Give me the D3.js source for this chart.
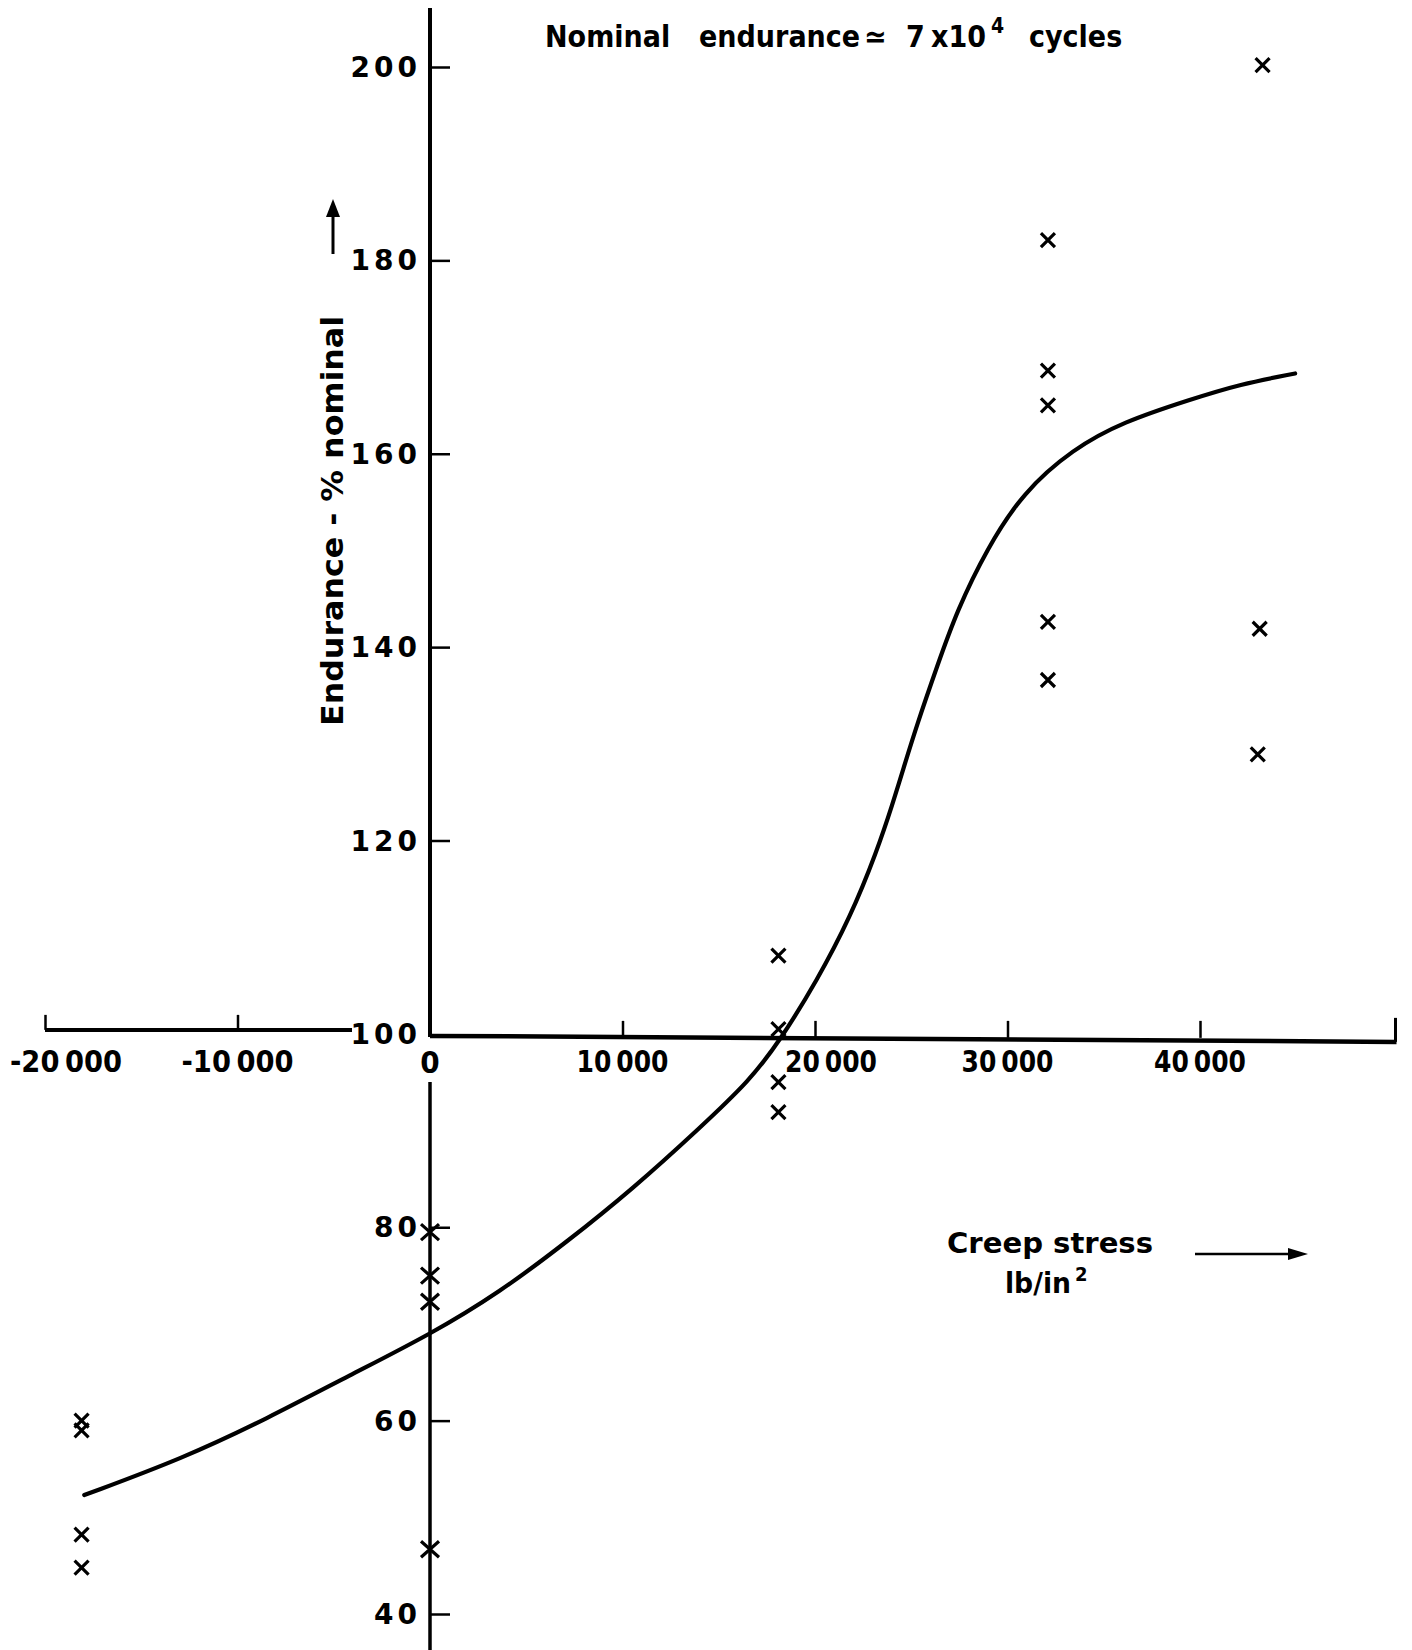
<!DOCTYPE html>
<html>
<head>
<meta charset="utf-8">
<script src="https://cdn.jsdelivr.net/npm/d3@7"></script>
<style>
  html, body { margin: 0; padding: 0; background: #fff; }
  svg { display: block; }
  text { fill: #000; font-family: "DejaVu Sans Condensed", "DejaVu Sans", sans-serif; font-weight: bold; }
</style>
</head>
<body>
<script>
// ---- data ----
const xTickValues = [-20000, -10000, 10000, 20000, 30000, 40000];
const xTickLabels = ["-20\u2009000", "-10\u2009000", "10\u2009000", "20\u2009000", "30\u2009000", "40\u2009000"];
const yTickValues = [40, 60, 80, 100, 120, 140, 160, 180, 200];
const yTickLabels = ["40", "60", "80", "100", "120", "140", "160", "180", "200"];

// test points (creep stress lb/in², endurance % nominal)
const pointStress = [43250, 32100, 32100, 32100, 32100, 32100, 43100, 43000,
                     18100, 18100, 18100, 18100,
                     0, 0, 0, 0,
                     -18100, -18100, -18100, -18100];
const pointEndurance = [200.2, 182.1, 168.6, 165.0, 142.6, 136.6, 141.9, 128.9,
                        108.1, 100.5, 95.0, 91.9,
                        79.5, 75.0, 72.3, 46.7,
                        60.0, 59.0, 48.2, 44.8];

// fitted curve
const curveStress = [-17960, -12830, -8470, -4160, 0, 3640, 7120, 10550, 14030, 16620,
                     18180, 20100, 21820, 23220, 24050, 24570, 25300, 26340, 27380, 28940,
                     30800, 33400, 36000, 39480, 42080, 44940];
const curveEndurance = [52.3, 56.1, 60.2, 64.7, 68.9, 73.3, 78.5, 84.0, 90.3, 95.2,
                        99.3, 105.5, 112.0, 118.9, 123.9, 127.3, 132.0, 138.0, 143.8, 150.2,
                        156.0, 160.5, 163.3, 165.6, 167.2, 168.3];

// title pieces
const titleWords = ["Nominal", "endurance", "\u2243", "7", "x10"];
const titleSup = "4";
const titleTail = "cycles";

// ---- drawing ----
const W = 1412, H = 1650;
const svg = d3.select("body").append("svg").attr("width", W).attr("height", H);

const x = d3.scaleLinear().domain([-20000, 50000]).range([45, 1392.5]);
const y = d3.scaleLinear().domain([40, 200]).range([1614, 67]);

const ink = "#000";
const x0 = x(0), y100 = y(100);

// --- y axis (broken at the x axis for the "0" label)
svg.append("line").attr("x1", x0).attr("x2", x0).attr("y1", 8).attr("y2", y100 + 3)
  .attr("stroke", ink).attr("stroke-width", 4);
svg.append("line").attr("x1", x0).attr("x2", x0).attr("y1", 1082).attr("y2", H)
  .attr("stroke", ink).attr("stroke-width", 3.5);

const yAxis = d3.axisRight(y)
  .tickValues(yTickValues.filter(v => v !== 100))
  .tickSize(20).tickFormat("");
const gy = svg.append("g").attr("transform", `translate(${x0},0)`).call(yAxis);
gy.select(".domain").remove();
gy.selectAll(".tick line").attr("stroke", ink).attr("stroke-width", 2.5);

// y tick labels
svg.append("g").selectAll("text").data(yTickValues).join("text")
  .attr("x", 421).attr("y", d => y(d) + 10)
  .attr("text-anchor", "end")
  .style("font-family", "'DejaVu Sans', sans-serif")
  .style("font-size", "28px")
  .style("letter-spacing", "4px")
  .text((d, i) => yTickLabels[i]);

// --- x axis
svg.append("line").attr("x1", x(-20000)).attr("x2", 352).attr("y1", y100 - 4).attr("y2", y100 - 4)
  .attr("stroke", ink).attr("stroke-width", 4);
svg.append("line").attr("x1", x0).attr("x2", x(50000) + 4).attr("y1", y100 + 2).attr("y2", y100 + 8)
  .attr("stroke", ink).attr("stroke-width", 4.5);

const xAxisLeft = d3.axisTop(x).tickValues([-20000, -10000]).tickSize(15).tickFormat("");
const gxl = svg.append("g").attr("transform", `translate(0,${y100 - 4})`).call(xAxisLeft);
gxl.select(".domain").remove();
gxl.selectAll(".tick line").attr("stroke", ink).attr("stroke-width", 2.5);

const xAxisRight = d3.axisTop(x).tickValues([10000, 20000, 30000, 40000]).tickSize(17).tickFormat("");
const gxr = svg.append("g").attr("transform", `translate(0,${y100 + 4})`).call(xAxisRight);
gxr.select(".domain").remove();
gxr.selectAll(".tick line").attr("stroke", ink).attr("stroke-width", 2.5);
svg.append("line").attr("x1", x(50000) + 3).attr("x2", x(50000) + 3)
  .attr("y1", y100 + 8).attr("y2", y100 - 16).attr("stroke", ink).attr("stroke-width", 3);

// x tick labels (20 000 and -20 000 shifted clear of the curve / axis end)
const labelShift = { "-20000": 21, "20000": 16 };
svg.append("g").selectAll("text").data(xTickValues).join("text")
  .attr("x", d => x(d) + (labelShift[d] || 0))
  .attr("y", 1072)
  .attr("text-anchor", "middle")
  .style("font-size", "31px")
  .attr("textLength", (d, i) => xTickLabels[i].startsWith("-") ? 112 : 92)
  .attr("lengthAdjust", "spacingAndGlyphs")
  .text((d, i) => xTickLabels[i]);

svg.append("text").attr("x", x0).attr("y", 1073).attr("text-anchor", "middle")
  .style("font-size", "31px").text("0");

// --- fitted curve
const curvePts = curveStress.map((s, i) => [s, curveEndurance[i]]);
svg.append("path")
  .attr("d", d3.line().x(d => x(d[0])).y(d => y(d[1])).curve(d3.curveBasis)(curvePts))
  .attr("fill", "none").attr("stroke", ink).attr("stroke-width", 4.2)
  .attr("stroke-linecap", "round");

// --- points (crosses)
const pts = pointStress.map((s, i) => [s, pointEndurance[i]]);
svg.append("g").selectAll("path").data(pts).join("path")
  .attr("transform", d => `translate(${x(d[0])},${y(d[1])})`)
  .attr("d", d => d[0] === 0 ? "M-9,-8L9,8M-9,8L9,-8" : "M-7,-7L7,7M-7,7L7,-7")
  .attr("fill", "none").attr("stroke", ink).attr("stroke-width", 3.2);

// --- title: one text element, words placed as in the reference
const titleX = [545, 699, 864, 906, 931];
const title = svg.append("text").attr("y", 47).style("font-size", "30px");
titleWords.forEach((w, i) => title.append("tspan").attr("x", titleX[i]).text(w));
title.append("tspan").attr("x", 991).attr("dy", -14).style("font-size", "21px").text(titleSup);
title.append("tspan").attr("x", 1029).attr("dy", 14).text(titleTail);

// --- y axis title (rotated) and arrow
svg.append("text")
  .attr("transform", `translate(343,726) rotate(-90)`)
  .style("font-size", "30px")
  .attr("textLength", 410).attr("lengthAdjust", "spacingAndGlyphs")
  .text("Endurance  -  % nominal");
svg.append("line").attr("x1", 333).attr("x2", 333).attr("y1", 254).attr("y2", 212)
  .attr("stroke", ink).attr("stroke-width", 3);
svg.append("path").attr("d", "M333,199 L326,217 L340,217 Z").attr("fill", ink);

// --- x axis title and arrow
svg.append("text").attr("x", 1050).attr("y", 1253).attr("text-anchor", "middle")
  .style("font-size", "28px").attr("textLength", 206).attr("lengthAdjust", "spacingAndGlyphs")
  .text("Creep stress");
const unit = svg.append("text").attr("x", 1005).attr("y", 1293)
  .style("font-size", "28px");
unit.append("tspan").attr("textLength", 66).attr("lengthAdjust", "spacingAndGlyphs").text("lb/in");
unit.append("tspan").attr("dy", -12).attr("dx", 4).style("font-size", "20px").text("2");
svg.append("line").attr("x1", 1195).attr("x2", 1292).attr("y1", 1254).attr("y2", 1254)
  .attr("stroke", ink).attr("stroke-width", 2.5);
svg.append("path").attr("d", "M1308,1254 L1288,1248 L1288,1260 Z").attr("fill", ink);
</script>
</body>
</html>
